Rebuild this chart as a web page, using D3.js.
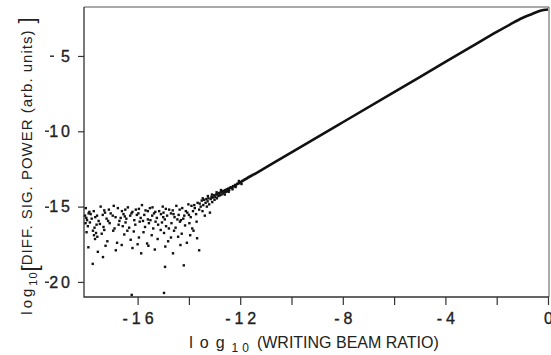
<!DOCTYPE html>
<html>
<head>
<meta charset="utf-8">
<script src="https://cdn.jsdelivr.net/npm/d3@7"></script>
<style>
  body { margin: 0; background: #fff; }
  svg { display: block; font-family: "Liberation Sans", Arial, sans-serif; }
  .tick text { fill: #222; }
</style>
</head>
<body>
<svg id="chart" width="551" height="355"></svg>
<script>
// log10 writing beam ratio ticks (major labelled, minor unlabelled)
const xMajorTicks = [-16, -12, -8, -4, 0];
const xMinorTicks = [-14, -10, -6, -2];
const yTicks = [-5, -10, -15, -20];

// noisy measurements below the detection floor
const noisePoints = [
  // upper edge of the noise band
  [-18.02,-15.1],[-17.71,-15.3],[-17.44,-15.0],[-17.12,-15.2],[-16.93,-14.95],[-16.61,-15.3],[-16.38,-15.05],
  [-16.07,-15.2],[-15.83,-14.9],[-15.52,-15.1],[-15.31,-15.35],[-15.02,-15.0],[-14.77,-15.2],[-14.49,-14.95],
  [-14.26,-15.1],[-14.02,-14.85],[-13.79,-14.9],[-17.88,-15.35],[-17.3,-15.25],[-16.77,-15.1],[-16.2,-15.35],
  [-15.69,-15.25],[-15.16,-15.3],[-14.63,-15.25],[-14.12,-15.3],[-13.66,-14.75],
  [-16.48,-15.2],[-15.95,-15.15],[-15.42,-15.05],[-14.9,-15.15],[-14.36,-15.2],[-13.9,-14.95],[-15.6,-15.3],
  // dense part
  [-18.05,-15.6],[-17.97,-15.9],[-17.83,-15.5],[-17.65,-15.7],[-17.52,-15.95],[-17.36,-15.55],[-17.21,-15.8],
  [-17.05,-15.45],[-16.86,-15.7],[-16.71,-15.95],[-16.55,-15.5],[-16.44,-15.8],[-16.29,-15.6],[-16.13,-15.9],
  [-15.97,-15.45],[-15.88,-15.75],[-15.74,-15.55],[-15.6,-15.85],[-15.43,-15.6],[-15.25,-15.75],[-15.09,-15.5],
  [-14.94,-15.85],[-14.85,-15.6],[-14.7,-15.45],[-14.56,-15.7],[-14.4,-15.55],[-14.31,-15.9],[-14.18,-15.6],
  [-14.06,-15.4],[-13.93,-15.7],[-13.84,-15.3],[-13.72,-15.5],[-13.6,-15.2],[-18.0,-15.75],[-17.91,-15.45],
  [-17.58,-15.6],[-17.15,-15.95],[-16.97,-15.6],[-16.5,-15.65],[-16.03,-15.55],[-15.79,-15.95],[-15.36,-15.45],
  [-15.0,-15.7],[-14.45,-15.85],[-14.0,-15.55],[-17.79,-15.8],[-17.27,-15.4],[-16.66,-15.75],[-16.24,-15.45],
  [-15.5,-15.9],[-14.99,-15.4],[-14.6,-15.5],[-14.22,-15.8],[-13.77,-15.1],
  [-18.03,-16.1],[-17.94,-16.3],[-17.86,-16.05],[-17.68,-16.4],[-17.47,-16.15],[-17.33,-16.35],[-17.09,-16.1],
  [-16.9,-16.45],[-16.74,-16.2],[-16.47,-16.05],[-16.33,-16.4],[-16.09,-16.2],[-15.92,-16.0],[-15.71,-16.35],
  [-15.56,-16.1],[-15.39,-16.45],[-15.2,-16.2],[-15.05,-16.05],[-14.89,-16.3],[-14.68,-16.1],[-14.52,-16.4],
  [-14.35,-16.0],[-14.15,-16.25],[-13.98,-16.1],[-13.87,-16.45],[-13.7,-16.0],[-17.6,-16.2],[-16.58,-16.3],
  [-15.3,-16.0],[-14.78,-16.45],
  // sparser lower part
  [-17.99,-16.7],[-17.74,-16.6],[-17.7,-16.9],[-17.66,-17.15],[-17.62,-16.75],[-17.57,-17.0],[-17.4,-16.8],
  [-17.18,-17.3],[-16.95,-16.6],[-16.8,-17.4],[-16.52,-16.85],[-16.27,-17.2],[-16.15,-16.65],[-15.95,-17.05],
  [-15.77,-16.7],[-15.63,-17.45],[-15.45,-16.9],[-15.22,-17.15],[-14.97,-16.75],[-14.81,-17.3],[-14.58,-16.6],
  [-14.42,-17.0],[-14.28,-16.8],[-14.08,-17.4],[-13.95,-16.9],[-13.82,-16.6],[-13.68,-17.1],[-17.3,-16.55],
  [-16.4,-16.6],[-15.1,-16.55],[-14.7,-17.05],
  [-17.92,-17.7],[-17.55,-18.0],[-17.25,-17.6],[-16.85,-17.9],[-16.62,-17.55],[-16.2,-17.75],[-15.86,-18.1],
  [-15.58,-17.6],[-15.33,-17.85],[-14.92,-17.65],[-14.62,-18.1],[-14.33,-17.55],[-13.6,-17.9],[-16.0,-17.5],
  // outliers
  [-17.75,-18.8],[-17.35,-18.35],[-16.23,-20.86],[-14.97,-20.73],[-14.93,-19.0],[-14.2,-18.9],
  // where the noise merges into the line
  [-13.58,-14.8],[-13.54,-15.0],[-13.5,-14.6],[-13.47,-15.3],[-13.44,-14.9],[-13.41,-14.55],[-13.38,-15.6],
  [-13.35,-14.75],[-13.32,-14.5],[-13.3,-15.0],[-13.27,-14.65],[-13.24,-14.45],[-13.21,-14.85],[-13.18,-15.4],
  [-13.15,-14.5],[-13.12,-14.35],[-13.09,-14.7],[-13.06,-14.4],[-13.03,-14.25],[-13.0,-14.55],[-12.97,-14.35],
  [-12.94,-14.2],[-12.91,-14.45],[-12.88,-14.15],[-12.85,-14.3],[-12.82,-14.1],[-12.79,-14.25],[-12.76,-14.05],
  [-12.73,-14.2],[-12.7,-13.98],[-12.67,-14.12],[-12.64,-13.95],[-12.61,-14.05],[-12.58,-13.9],[-12.55,-14.02],
  [-12.52,-13.85],[-12.49,-13.95],[-12.46,-13.8],[-12.43,-13.9],[-12.4,-13.75],
  [-13.46,-14.45],[-13.26,-14.3],[-13.1,-14.2],[-12.92,-14.05],[-12.75,-13.9],[-12.6,-14.2],[-12.45,-14.02],
  [-12.3,-13.85],[-12.18,-13.7],[-12.05,-13.3],[-11.95,-13.5],
  [-12.36,-13.72],[-12.32,-13.74],[-12.28,-13.64],[-12.24,-13.66],[-12.2,-13.56],[-12.16,-13.58],[-12.12,-13.49],
  [-12.08,-13.47],[-12.04,-13.44],[-12.0,-13.38],[-11.96,-13.36],[-11.92,-13.3],[-11.88,-13.27],[-11.84,-13.22],
  [-11.8,-13.18],[-11.76,-13.15],[-11.72,-13.1],[-11.68,-13.06],[-11.64,-13.02],[-11.6,-12.98],[-11.56,-12.95],
  [-11.52,-12.9]
];

// clean part of the response: straight line that saturates near ratio 1
const lineX = [-11.5, -10, -8, -6, -4, -3, -2, -1.5, -1.0, -0.6, -0.3, 0];
const lineY = [-12.9, -11.4, -9.4, -7.4, -5.4, -4.4, -3.4, -2.93, -2.48, -2.2, -2.0, -1.92];

const svg = d3.select('#chart');
const plotLeft = 84, plotRight = 548, plotTop = 7, plotBottom = 297;

const x = d3.scaleLinear().domain([-18.09, 0]).range([plotLeft, plotRight]);
const y = d3.scaleLinear().domain([-21.0, -1.75]).range([plotBottom, plotTop]);

// frame
svg.append('path')
  .attr('d', `M${plotLeft},${plotTop}H${plotRight + 1}V${plotBottom}`)
  .attr('fill', 'none').attr('stroke', '#555').attr('stroke-width', 1);
svg.append('path')
  .attr('d', `M${plotLeft},${plotTop}V${plotBottom}H${plotRight + 1}`)
  .attr('fill', 'none').attr('stroke', '#333').attr('stroke-width', 1.3);

const fmt = d => d === 0 ? '0' : '-' + String(-d);

const xAxis = svg.append('g')
  .attr('transform', `translate(0,${plotBottom})`)
  .call(d3.axisBottom(x).tickValues(xMajorTicks.concat(xMinorTicks)).tickSize(8).tickPadding(8)
    .tickFormat(d => xMajorTicks.includes(d) ? fmt(d) : ''));
xAxis.select('.domain').remove();
xAxis.selectAll('line').attr('stroke', '#333').attr('stroke-width', 1.2);
xAxis.selectAll('text')
  .attr('font-size', 16).attr('letter-spacing', 4).attr('dx', 2)
  .attr('stroke', '#222').attr('stroke-width', 0.35)
  .attr('font-family', '"Liberation Sans", Arial, sans-serif');

// y ticks from the axis, labels split into minus sign and digits
const yAxis = svg.append('g')
  .attr('transform', `translate(${plotLeft},0)`)
  .call(d3.axisLeft(y).tickValues(yTicks).tickSize(6).tickFormat(''));
yAxis.select('.domain').remove();
yAxis.selectAll('line').attr('stroke', '#333').attr('stroke-width', 1.2);

const yLabels = svg.append('g')
  .attr('font-size', 16).attr('fill', '#222')
  .attr('stroke', '#222').attr('stroke-width', 0.35);
yLabels.selectAll('text.digits')
  .data(yTicks)
  .join('text')
  .attr('class', 'digits')
  .attr('x', 70).attr('y', d => y(d)).attr('dy', '0.36em')
  .attr('text-anchor', 'end').attr('letter-spacing', 3).attr('dx', 3)
  .text(d => String(-d));
yLabels.selectAll('rect.minus')
  .data(yTicks)
  .join('rect')
  .attr('class', 'minus')
  .attr('x', d => (d <= -10 ? 45 : 50))
  .attr('y', d => Math.round(y(d)) - 0.5)
  .attr('width', 4).attr('height', 1.4)
  .attr('stroke', 'none');

// scattered points
svg.append('g')
  .selectAll('rect')
  .data(noisePoints)
  .join('rect')
  .attr('x', d => x(d[0]) - 1.2)
  .attr('y', d => y(d[1]) - 1.2)
  .attr('width', 2.4)
  .attr('height', 2.4)
  .attr('fill', '#111');

// main line
const line = d3.line()
  .x(d => x(d[0]))
  .y(d => y(d[1]))
  .curve(d3.curveMonotoneX);

svg.append('path')
  .datum(lineX.map((v, i) => [v, lineY[i]]))
  .attr('fill', 'none')
  .attr('stroke', '#111')
  .attr('stroke-width', 2.6)
  .attr('d', line);

// axis titles
const xt = svg.append('text')
  .attr('x', 314).attr('y', 348)
  .attr('text-anchor', 'middle')
  .attr('font-size', 16).attr('fill', '#222');
xt.append('tspan').attr('letter-spacing', 7).text('log');
xt.append('tspan').attr('font-size', 12).attr('dy', 4).attr('letter-spacing', 4).text('10');
xt.append('tspan').attr('dy', -4).attr('dx', 4).text('(WRITING BEAM RATIO)');

const yt = svg.append('text')
  .attr('transform', 'translate(32,166) rotate(-90)')
  .attr('text-anchor', 'middle')
  .attr('font-size', 15).attr('fill', '#222');
yt.append('tspan').attr('letter-spacing', 3).text('log');
yt.append('tspan').attr('font-size', 11).attr('dy', 5).attr('letter-spacing', 1).text('10');
yt.append('tspan').attr('font-size', 22).attr('dy', 0).text('[');
yt.append('tspan').attr('dy', -5).attr('letter-spacing', 1).text('DIFF. SIG. POWER (arb. units)');
yt.append('tspan').attr('font-size', 22).attr('dy', 2).text(' ]');
</script>
</body>
</html>
